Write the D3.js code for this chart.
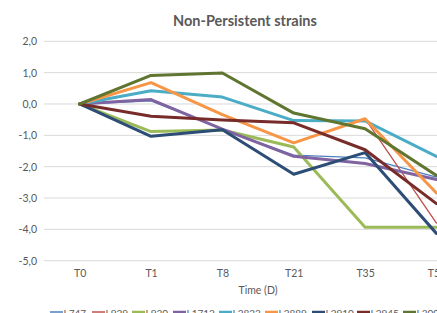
<!DOCTYPE html>
<html><head><meta charset="utf-8">
<script src="https://cdn.jsdelivr.net/npm/d3@7"></script>
<style>body{margin:0;background:#fff}svg{display:block}</style>
</head><body>
<script>
const categories = ["T0","T1","T8","T21","T35","T56"];
const seriesNames = ["L747","L929","L930","L1712","L2833","L2889","L2910","L2945","L3003"];
const L747  = [0, 0.10, -0.80, -1.63, -1.72, -2.33];
const L929  = [0, 0.68, -0.34, -1.24, -0.47, -3.80];
const L930  = [0, -0.88, -0.83, -1.37, -3.93, -3.93];
const L1712 = [0, 0.14, -0.80, -1.67, -1.90, -2.41];
const L2833 = [0, 0.42, 0.22, -0.53, -0.54, -1.67];
const L2889 = [0, 0.68, -0.34, -1.24, -0.47, -2.84];
const L2910 = [0, -1.03, -0.82, -2.24, -1.55, -4.13];
const L2945 = [0, -0.39, -0.51, -0.60, -1.46, -3.18];
const L3003 = [0, 0.91, 0.99, -0.29, -0.79, -2.28];
const seriesValues = [L747, L929, L930, L1712, L2833, L2889, L2910, L2945, L3003];
const colors = ["#4F81BD","#C0504D","#9BBB59","#8064A2","#4BACC6","#F79646","#2C4D75","#772C2A","#5F7530"];
const widths = [1.3,1.3,3,3,3,3,3,3,3];
const yTicks = [2,1,0,-1,-2,-3,-4,-5];

const W = 437, H = 313;
const svg = d3.select("body").append("svg").attr("width", W).attr("height", H);
const font = "Lato, 'Liberation Sans', sans-serif";
const txt = "#595959";

const plotL = 44, step = 71.35;
const x = d3.scalePoint().domain(categories).range([plotL + step/2, plotL + step*5.5]);
const y = d3.scaleLinear().domain([-5, 2]).range([260.7, 41.3]);

// gridlines
svg.append("g").selectAll("line").data(yTicks).join("line")
  .attr("x1", plotL).attr("x2", plotL + step*6)
  .attr("y1", d => y(d)).attr("y2", d => y(d))
  .attr("stroke", "#d9d9d9").attr("stroke-width", 1);

// y axis labels
const yAxis = d3.axisLeft(y).tickValues(yTicks).tickSize(0).tickPadding(7)
  .tickFormat(d => d3.format(".1f")(d).replace(".", ",").replace("−", "-"));
const gy = svg.append("g").attr("transform", `translate(${plotL},0)`).call(yAxis);
gy.select(".domain").remove();
gy.selectAll("text").attr("fill", txt).attr("font-family", font).attr("font-size", 10.5);

// x axis labels
const xAxis = d3.axisBottom(x).tickSize(0).tickPadding(9);
const gx = svg.append("g").attr("transform", `translate(0,${y(-5)})`).call(xAxis);
gx.select(".domain").remove();
gx.selectAll("text").attr("fill", txt).attr("font-family", font).attr("font-size", 10.5);

// lines
const line = d3.line().x((d, i) => x(categories[i])).y(d => y(d));
svg.append("g").selectAll("path").data(seriesValues).join("path")
  .attr("d", d => line(d)).attr("fill", "none")
  .attr("stroke", (d, i) => colors[i]).attr("stroke-width", (d, i) => widths[i])
  .attr("stroke-linejoin", "round").attr("stroke-linecap", "round");

// title
svg.append("text").attr("x", 245).attr("y", 26).attr("text-anchor", "middle")
  .attr("font-family", font).attr("font-weight", "bold").attr("font-size", 14.5)
  .attr("fill", txt).text("Non-Persistent strains");

// axis title
svg.append("text").attr("x", 258).attr("y", 294).attr("text-anchor", "middle")
  .attr("font-family", font).attr("font-size", 10.5).attr("fill", txt).text("Time (D)");

// legend
const legX = [50, 92, 132, 173, 219, 265, 312, 357, 403];
const lg = svg.append("g").selectAll("g").data(seriesNames).join("g")
  .attr("transform", (d, i) => `translate(${legX[i]},0)`);
lg.append("line").attr("x1", 0).attr("x2", 13).attr("y1", 312).attr("y2", 312)
  .attr("stroke", (d, i) => colors[i]).attr("stroke-width", (d, i) => widths[i] > 2 ? 2.5 : 1.5);
lg.append("text").attr("x", 13.5).attr("y", 317).attr("font-family", font)
  .attr("font-size", 10).attr("fill", txt).text(d => d);
</script>
</body></html>
